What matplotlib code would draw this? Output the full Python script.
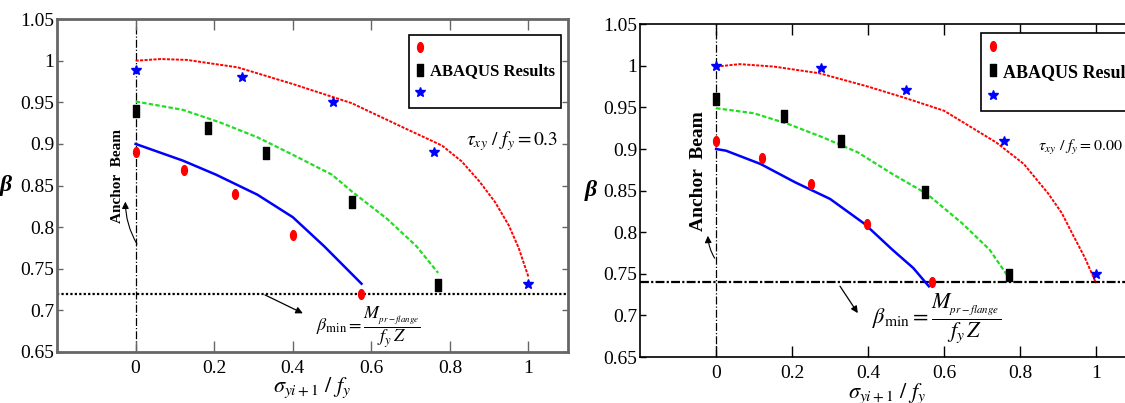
import numpy as np
import matplotlib
matplotlib.use('Agg')
import matplotlib.pyplot as plt
from matplotlib.path import Path
from matplotlib.lines import Line2D

plt.rcParams['font.family'] = ['Liberation Serif', 'DejaVu Serif']
plt.rcParams['mathtext.fontset'] = 'stix'

# ---- left panel (tau/fy = 0.3) ----
red_x_a = [0, 0.122, 0.252, 0.40, 0.573]
red_y_a = [0.89, 0.869, 0.84, 0.79, 0.72]
blk_x_a = [0, 0.183, 0.332, 0.552, 0.77]
blk_y_a = [0.94, 0.919, 0.889, 0.83, 0.731]
blu_x_a = [0, 0.271, 0.502, 0.76, 1.0]
blu_y_a = [0.989, 0.98, 0.95, 0.89, 0.732]

red_cx_a = [0, 0.063, 0.13, 0.26, 0.40, 0.55, 0.68, 0.78, 0.83, 0.875, 0.915, 0.95, 0.975, 1.0]
red_cy_a = [1.0, 1.002, 1.001, 0.992, 0.972, 0.949, 0.92, 0.898, 0.879, 0.855, 0.83, 0.802, 0.775, 0.74]
grn_cx_a = [0, 0.12, 0.214, 0.31, 0.40, 0.50, 0.55, 0.64, 0.715, 0.77]
grn_cy_a = [0.951, 0.941, 0.926, 0.908, 0.887, 0.863, 0.843, 0.81, 0.777, 0.745]
blu_cx_a = [0, 0.12, 0.205, 0.31, 0.40, 0.48, 0.575]
blu_cy_a = [0.90, 0.88, 0.863, 0.839, 0.812, 0.777, 0.732]
beta_min_a = 0.72

# ---- right panel (tau/fy = 0.00) ----
red_x_b = [0, 0.12, 0.249, 0.398, 0.569]
red_y_b = [0.91, 0.889, 0.858, 0.81, 0.74]
blk_x_b = [0, 0.179, 0.33, 0.549, 0.77]
blk_y_b = [0.96, 0.94, 0.91, 0.848, 0.749]
blu_x_b = [0, 0.277, 0.499, 0.758, 1.0]
blu_y_b = [1.0, 0.997, 0.971, 0.91, 0.75]

red_cx_b = [0, 0.062, 0.153, 0.272, 0.40, 0.50, 0.60, 0.737, 0.81, 0.875, 0.91, 0.939, 0.97, 1.0]
red_cy_b = [0.999, 1.002, 0.999, 0.991, 0.975, 0.961, 0.946, 0.908, 0.882, 0.846, 0.823, 0.797, 0.77, 0.739]
grn_cx_b = [0, 0.099, 0.19, 0.281, 0.373, 0.464, 0.555, 0.647, 0.72, 0.765]
grn_cy_b = [0.949, 0.943, 0.93, 0.914, 0.896, 0.87, 0.846, 0.811, 0.779, 0.749]
blu_cx_b = [0, 0.026, 0.117, 0.208, 0.30, 0.391, 0.464, 0.519, 0.56]
blu_cy_b = [0.90, 0.898, 0.882, 0.86, 0.84, 0.81, 0.779, 0.757, 0.735]
beta_min_b = 0.74

xticks = [0, 0.2, 0.4, 0.6, 0.8, 1]
xticklabels = ['0', '0.2', '0.4', '0.6', '0.8', '1']
yticks = [0.65, 0.7, 0.75, 0.8, 0.85, 0.9, 0.95, 1, 1.05]
yticklabels = ['0.65', '0.7', '0.75', '0.8', '0.85', '0.9', '0.95', '1', '1.05']
legend_labels = ['', 'ABAQUS Results', '']

# tall ellipse and tall rectangle markers, like the scanned figure
circ = Path.unit_circle()
ellipse = Path(circ.vertices * np.array([0.6, 1.0]), circ.codes)
rect = Path([(-0.42, -1), (0.42, -1), (0.42, 1), (-0.42, 1), (-0.42, -1)],
            [Path.MOVETO, Path.LINETO, Path.LINETO, Path.LINETO, Path.CLOSEPOLY])

bmin_tex = r'$\beta_{\min} = \dfrac{M_{{}_{pr-flange}}}{f_y\,Z}$'

fig = plt.figure(figsize=(11.25, 4.03), dpi=100)
ax1 = fig.add_axes([0.0507, 0.1266, 0.454, 0.826])
ax2 = fig.add_axes([0.569, 0.114, 0.439, 0.826])


def draw_panel(ax, pts, curves, bmin, tau_text, frame_col, frame_lw, fs, hline_style,
               anchor_fs, anchor_xy, anchor_arrow, bmin_xy, bmin_arrow, tau_xy, tau_fs,
               leg_fs, leg_top, beta_x):
    (rx, ry), (kx, ky), (bx, by) = pts
    (rcx, rcy), (gcx, gcy), (bcx, bcy) = curves

    ax.axvline(0, color='black', lw=0.9, ls='-.', zorder=1)
    ax.axhline(bmin, color='black', lw=1.6, ls=hline_style, zorder=1)

    ax.plot(rcx, rcy, color='red', lw=1.4, ls=(0, (1.6, 0.7)), zorder=2)
    ax.plot(gcx, gcy, color='#22dd22', lw=1.6, ls=(0, (2, 1)), zorder=2)
    ax.plot(bcx, bcy, color='blue', lw=1.8, ls='-', zorder=2)

    ax.plot(rx, ry, ls='none', marker=ellipse, ms=7, color='red', zorder=3)
    ax.plot(kx, ky, ls='none', marker=rect, ms=9, color='black', zorder=3)
    ax.plot(bx, by, ls='none', marker='*', ms=7, color='blue', zorder=3)

    ax.set_xlim(-0.2, 1.1)
    ax.set_ylim(0.65, 1.05)
    ax.set_xticks(xticks)
    ax.set_xticklabels(xticklabels)
    ax.set_yticks(yticks)
    ax.set_yticklabels(yticklabels)
    ax.tick_params(axis='x', direction='in', length=8, width=1, top=True,
                   labelsize=fs, color=frame_col, pad=6)
    ax.tick_params(axis='y', direction='in', length=4, width=1, right=True,
                   labelsize=fs, color=frame_col, pad=2)
    for sp in ax.spines.values():
        sp.set_color(frame_col)
        sp.set_linewidth(frame_lw)

    ax.set_xlabel(r'$\sigma_{yi+1}\ /\ f_y$', fontsize=16, labelpad=-1)
    ax.set_ylabel('β', fontsize=17, fontweight='bold', fontstyle='italic', rotation=0)
    ax.yaxis.set_label_coords(beta_x, 0.47)

    ax.text(anchor_xy[0], anchor_xy[1], 'Anchor  Beam', rotation=90, fontsize=anchor_fs,
            fontweight='bold', ha='center', va='center')
    ax.annotate('', xy=anchor_arrow[1], xytext=anchor_arrow[0],
                arrowprops=dict(arrowstyle='-|>', color='black', lw=0.8,
                                connectionstyle='arc3,rad=-0.15'))
    ax.annotate('', xy=bmin_arrow[1], xytext=bmin_arrow[0],
                arrowprops=dict(arrowstyle='-|>', color='black', lw=0.9))
    ax.text(bmin_xy[0], bmin_xy[1], bmin_tex, fontsize=bmin_xy[2], ha='left', va='center')
    ax.text(tau_xy[0], tau_xy[1], tau_text, fontsize=tau_fs, ha='left', va='center')

    handles = [Line2D([], [], ls='none', marker=ellipse, ms=7, color='red'),
               Line2D([], [], ls='none', marker=rect, ms=9, color='black'),
               Line2D([], [], ls='none', marker='*', ms=7, color='blue')]
    leg = ax.legend(handles, legend_labels, loc='upper left', bbox_to_anchor=(0.69, leg_top),
                    fancybox=False, framealpha=1, edgecolor='black', borderpad=0.35,
                    handlelength=0.6, handletextpad=0.3, labelspacing=0.4,
                    borderaxespad=0, prop={'family': 'Liberation Serif', 'weight': 'bold',
                                           'size': leg_fs})
    leg.get_frame().set_linewidth(1.2)


draw_panel(ax1,
           [(red_x_a, red_y_a), (blk_x_a, blk_y_a), (blu_x_a, blu_y_a)],
           [(red_cx_a, red_cy_a), (grn_cx_a, grn_cy_a), (blu_cx_a, blu_cy_a)],
           beta_min_a, r'$\tau_{xy}\ /\ f_y = 0.3$', '#666666', 2.0, 14, (0, (1, 1)),
           11, (-0.045, 0.862), ((0.007, 0.777), (-0.026, 0.834)),
           (0.46, 0.68, 13), ((0.323, 0.72), (0.432, 0.695)),
           (0.84, 0.904), 14, 12, 0.952, -0.1)

draw_panel(ax2,
           [(red_x_b, red_y_b), (blk_x_b, blk_y_b), (blu_x_b, blu_y_b)],
           [(red_cx_b, red_cy_b), (grn_cx_b, grn_cy_b), (blu_cx_b, blu_cy_b)],
           beta_min_b, r'$\tau_{xy}\ /\ f_y = 0.00$', 'black', 1.2, 14, (0, (4, 1, 1, 1)),
           14, (-0.047, 0.874), ((0.0, 0.766), (-0.022, 0.799)),
           (0.41, 0.697, 16), ((0.322, 0.738), (0.377, 0.70)),
           (0.847, 0.902), 11.5, 13, 0.973, -0.1)

fig.savefig('out.png', dpi=100)
